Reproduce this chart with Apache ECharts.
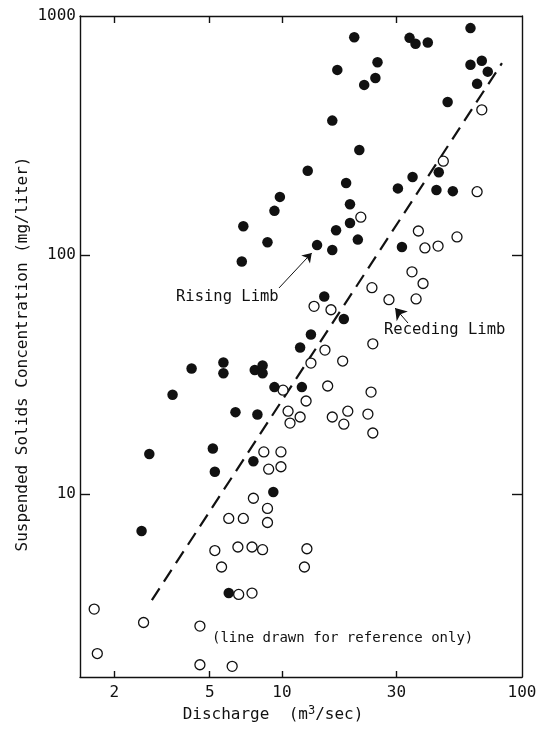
<!DOCTYPE html>
<html>
<head>
<meta charset="utf-8">
<script src="https://cdn.jsdelivr.net/npm/echarts@6/dist/echarts.min.js"></script>
<style>html,body{margin:0;padding:0;background:#fff}#c{width:538px;height:729px}</style>
</head>
<body>
<div id="c"></div>
<script>
// Discharge (m3/sec), concentration (mg/liter)
const risingLimb = [
  [20,815],[25,640],[17,595],[24.5,550],[22,515],[16.2,365],[21,275],[12.8,225],[18.5,200],[9.8,175],
  [19.2,163],[9.3,153],[19.2,136],[16.8,127],[6.9,132],[20.7,116],[8.7,113],[14,110],[16.2,105],[6.8,94],
  [15,67],[18.1,54],[13.2,46.5],[11.9,41],[4.2,33.5],[5.7,35.5],[5.7,32],[7.7,33],[8.3,34.5],[8.3,32],
  [9.3,28],[12.1,28],[6.4,22],[7.9,21.5],[3.5,26],[2.8,14.7],[5.15,15.5],[7.6,13.7],[5.25,12.4],[9.2,10.2],
  [2.6,7],[6.0,3.85],[61,890],[34,810],[36,765],[40.5,775],[61,625],[68,650],[72,585],[65,520],
  [49,437],[45,222],[35,212],[30.4,190],[44,187],[51.5,185],[31.6,108]
];
const recedingLimb = [
  [21.3,144],[68,405],[47,247],[65,184],[37,126],[53.6,119],[44.7,109],[39.4,107],[34.8,85],[38.7,76],
  [23.7,73],[27.9,65],[36.2,65.5],[23.9,42.5],[23.5,26.7],[22.8,21.6],[23.9,18],[13.6,61],[16,59],[15.1,40],
  [13.2,35.3],[17.9,36],[10.1,27.2],[12.6,24.5],[15.5,28.3],[10.6,22.2],[11.9,21],[10.8,19.8],[16.2,21],[18.8,22.2],
  [18.1,19.6],[8.4,15],[9.9,15],[8.8,12.7],[9.9,13],[7.6,9.6],[8.7,8.7],[6.0,7.9],[6.9,7.9],[8.7,7.6],
  [5.25,5.8],[6.55,6],[7.5,6],[8.3,5.85],[12.7,5.9],[5.6,4.95],[12.4,4.95],[6.6,3.8],[7.5,3.85],[4.55,2.8],
  [4.55,1.93],[6.2,1.9],[1.65,3.3],[2.65,2.9],[1.7,2.15]
];
const referenceLine = [[2.87,3.6],[82.5,635]];
const risingArrow = [[9.72,72.8],[13.3,102]];
const recedingArrow = [[33.5,51.9],[29.6,60]];
const xTickLabels = [2,5,10,30,100];
const xTickMarks = [2,5,10,30];
const yTickLabels = [10,100,1000];
const yTickMarks = [10,100];

const FONT = '"DejaVu Sans Mono", monospace';
const INK = '#111';
const chart = echarts.init(document.getElementById('c'), null, {renderer:'canvas'});
const axisLine = {show:true, lineStyle:{color:INK, width:1.4}};
const plain = v => String(Math.round(v));
chart.setOption({
  backgroundColor:'#fff',
  animation:false,
  grid:{left:80, right:16, top:16, bottom:52, containLabel:false, outerBoundsMode:'none'},
  xAxis:[
    {type:'log', logBase:10, min:1.44, max:100, position:'bottom',
     axisLine:axisLine, splitLine:{show:false}, minorTick:{show:false},
     axisTick:{show:true, inside:true, length:6, customValues:xTickMarks, lineStyle:{color:INK, width:1.4}},
     axisLabel:{customValues:xTickLabels, formatter:plain, fontFamily:FONT, fontSize:16, color:INK, margin:8}},
    {type:'log', logBase:10, min:1.44, max:100, position:'top',
     axisLine:axisLine, splitLine:{show:false},
     axisTick:{show:true, inside:true, length:7, customValues:xTickMarks, lineStyle:{color:INK, width:1.4}},
     axisLabel:{show:false}}
  ],
  yAxis:[
    {type:'log', logBase:10, min:1.715, max:1000, position:'left',
     axisLine:axisLine, splitLine:{show:false},
     axisTick:{show:true, inside:true, length:10, customValues:yTickMarks, lineStyle:{color:INK, width:1.4}},
     axisLabel:{customValues:yTickLabels, formatter:plain, fontFamily:FONT, fontSize:16, color:INK, margin:4}},
    {type:'log', logBase:10, min:1.715, max:1000, position:'right',
     axisLine:axisLine, splitLine:{show:false},
     axisTick:{show:true, inside:true, length:10, customValues:yTickMarks, lineStyle:{color:INK, width:1.4}},
     axisLabel:{show:false}}
  ],
  series:[
    {type:'line', data:referenceLine, symbol:'none', silent:true, z:1,
     lineStyle:{color:INK, width:2.2, type:[14,8]},
     markLine:{silent:true, symbol:['none','arrow'], label:{show:false},
       lineStyle:{color:INK, width:1, type:'solid'},
       data:[[{coord:risingArrow[0], symbolSize:1},{coord:risingArrow[1], symbolSize:9}],
             [{coord:recedingArrow[0], symbolSize:1},{coord:recedingArrow[1], symbolSize:11}]]}},
    {type:'scatter', name:'Rising Limb', data:risingLimb, symbol:'circle', symbolSize:10.5, z:3,
     itemStyle:{color:INK, opacity:1}},
    {type:'scatter', name:'Receding Limb', data:recedingLimb, symbol:'circle', symbolSize:10, z:2,
     itemStyle:{color:'#fff', borderColor:INK, borderWidth:1.3, opacity:1}}
  ],
  graphic:[
    {type:'text', x:23, y:354, rotation:Math.PI/2,
     style:{text:'Suspended Solids Concentration (mg/liter)', font:'16px '+FONT, fill:INK, align:'center', verticalAlign:'middle', textAlign:'center', textVerticalAlign:'middle'}},
    {type:'text', x:273, y:715,
     style:{text:'Discharge  (m{sup|3}/sec)', font:'16px '+FONT, fill:INK, align:'center', verticalAlign:'middle', textAlign:'center', textVerticalAlign:'middle',
       rich:{sup:{fontFamily:FONT, fontSize:12, verticalAlign:'top', padding:[0,0,8,0]}}}},
    {type:'text', x:176, y:297,
     style:{text:'Rising Limb', font:'15.5px '+FONT, fill:INK, align:'left', verticalAlign:'middle', textAlign:'left', textVerticalAlign:'middle'}},
    {type:'text', x:384, y:330,
     style:{text:'Receding Limb', font:'15.5px '+FONT, fill:INK, align:'left', verticalAlign:'middle', textAlign:'left', textVerticalAlign:'middle'}},
    {type:'text', x:212, y:638,
     style:{text:'(line drawn for reference only)', font:'14px '+FONT, fill:INK, align:'left', verticalAlign:'middle', textAlign:'left', textVerticalAlign:'middle'}}
  ]
});
</script>
</body>
</html>
